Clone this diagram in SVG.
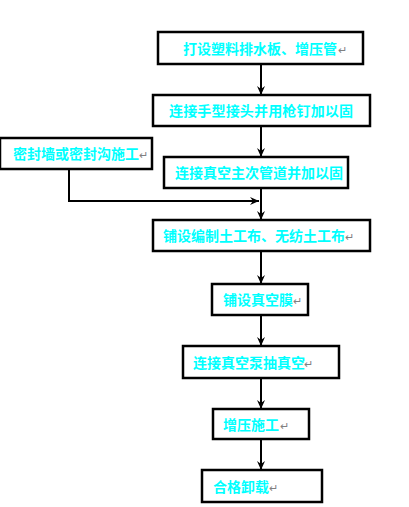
<svg xmlns="http://www.w3.org/2000/svg" width="409" height="507" viewBox="0 0 409 507">
<style>
.box{fill:#fff;stroke:#000;stroke-width:2.5}
.t{font-family:"Noto Sans CJK SC","Liberation Sans",sans-serif;font-size:14px;font-weight:bold;fill:#00FFFF;dominant-baseline:central}
.r{font-family:"Liberation Sans",sans-serif;font-size:11px;fill:#808080;dominant-baseline:central}
.c{fill:none;stroke:#000;stroke-width:2}
</style>
<defs>
<marker id="a" markerUnits="userSpaceOnUse" markerWidth="10" markerHeight="10" refX="9" refY="5" orient="auto">
<path d="M0,1 L9,5 L0,9 L3,5 Z" fill="#000"/>
</marker>
</defs>
<rect width="409" height="507" fill="#fff"/>
<g id="connectors">
<line class="c" x1="261" y1="64" x2="261" y2="95" marker-end="url(#a)"/>
<line class="c" x1="261" y1="126" x2="261" y2="157" marker-end="url(#a)"/>
<line class="c" x1="261" y1="188" x2="261" y2="220" marker-end="url(#a)"/>
<polyline class="c" points="69,169 69,201 259,201" marker-end="url(#a)"/>
<line class="c" x1="261" y1="251" x2="261" y2="284" marker-end="url(#a)"/>
<line class="c" x1="261" y1="315" x2="261" y2="346" marker-end="url(#a)"/>
<line class="c" x1="261" y1="378" x2="261" y2="409" marker-end="url(#a)"/>
<line class="c" x1="261" y1="439" x2="261" y2="470" marker-end="url(#a)"/>
</g>
<g id="n1"><rect class="box" x="158" y="32" width="205" height="32"/><text class="t" x="183" y="48">打设塑料排水板、增压管</text><text class="r" x="338" y="50">↵</text></g>
<g id="n2"><rect class="box" x="153" y="95" width="217" height="31"/><text class="t" x="169" y="110" textLength="184">连接手型接头并用枪钉加以固</text></g>
<g id="n3"><rect class="box" x="0" y="138" width="152" height="31"/><text class="t" x="13" y="153">密封墙或密封沟施工</text><text class="r" x="139" y="155">↵</text></g>
<g id="n4"><rect class="box" x="164" y="157" width="184" height="31"/><text class="t" x="175" y="172" textLength="168">连接真空主次管道并加以固</text></g>
<g id="n5"><rect class="box" x="153" y="220" width="217" height="31"/><text class="t" x="163" y="235">铺设编制土工布、无纺土工布</text><text class="r" x="345" y="237">↵</text></g>
<g id="n6"><rect class="box" x="212" y="284" width="96" height="31"/><text class="t" x="223" y="299">铺设真空膜</text><text class="r" x="293" y="301">↵</text></g>
<g id="n7"><rect class="box" x="183" y="346" width="156" height="32"/><text class="t" x="193" y="362">连接真空泵抽真空</text><text class="r" x="304" y="364">↵</text></g>
<g id="n8"><rect class="box" x="213" y="409" width="96" height="30"/><text class="t" x="223" y="424">增压施工</text><text class="r" x="280" y="426">↵</text></g>
<g id="n9"><rect class="box" x="202" y="470" width="120" height="32"/><text class="t" x="213" y="486">合格卸载</text><text class="r" x="269" y="488">↵</text></g>
</svg>
